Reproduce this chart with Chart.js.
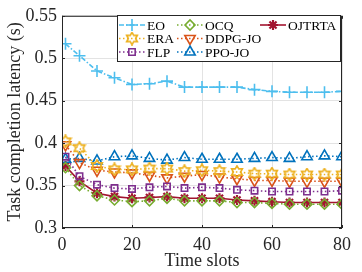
<!DOCTYPE html>
<html><head><meta charset="utf-8">
<script src="https://cdn.jsdelivr.net/npm/chart.js@4/dist/chart.umd.min.js"></script>
<style>html,body{margin:0;padding:0;background:#fff}#w{width:362px;height:272px}</style>
</head><body><div id="w"><canvas id="c" width="362" height="272"></canvas></div>
<script>
const timeSlots = [1,5,10,15,20,25,30,35,40,45,50,55,60,65,70,75,80];
const EO     = [0.517,0.503,0.485,0.477,0.469,0.470,0.473,0.466,0.466,0.466,0.466,0.463,0.461,0.460,0.460,0.460,0.461];
const ERA    = [0.402,0.394,0.373,0.369,0.369,0.370,0.370,0.367,0.368,0.367,0.366,0.364,0.364,0.363,0.363,0.363,0.363];
const FLP    = [0.384,0.361,0.351,0.347,0.346,0.348,0.349,0.347,0.348,0.347,0.345,0.344,0.343,0.343,0.343,0.343,0.344];
const OCQ    = [0.371,0.350,0.338,0.333,0.331,0.332,0.335,0.332,0.332,0.332,0.330,0.330,0.329,0.328,0.328,0.328,0.328];
const DDPGJO = [0.398,0.377,0.368,0.366,0.365,0.362,0.359,0.361,0.363,0.360,0.358,0.356,0.356,0.355,0.355,0.355,0.355];
const PPOJO  = [0.381,0.382,0.379,0.384,0.385,0.382,0.380,0.383,0.381,0.381,0.381,0.382,0.383,0.382,0.384,0.385,0.384];
const OJTRTA = [0.373,0.355,0.341,0.337,0.335,0.336,0.337,0.335,0.335,0.335,0.333,0.332,0.331,0.330,0.330,0.330,0.330];
const seriesNames = ['EO','ERA','FLP','OCQ','DDPG-JO','PPO-JO','OJTRTA'];
const xTicks = [0,20,40,60,80];
const yTicks = [0.3,0.35,0.4,0.45,0.5,0.55];

const FONT = "'Liberation Serif', 'Times New Roman', serif";

function hexagram(color){
  const s=14, c=document.createElement('canvas'); c.width=s; c.height=s;
  const g=c.getContext('2d'); const cx=s/2, cy=s/2, R=6.2, r=3.6;
  g.beginPath();
  for(let i=0;i<12;i++){const a=-Math.PI/2+i*Math.PI/6; const rr=i%2?r:R; g.lineTo(cx+rr*Math.cos(a),cy+rr*Math.sin(a));}
  g.closePath(); g.strokeStyle=color; g.lineWidth=1.6; g.stroke();
  return c;
}
const cols = {EO:'#4DBEEE',ERA:'#EDB120',FLP:'#7E2F8E',OCQ:'#77AC30',DDPG:'#D95319',PPO:'#0072BD',OJ:'#A2142F'};
const hexImg = hexagram(cols.ERA);

function pts(arr){return timeSlots.map((x,i)=>({x:x,y:arr[i]}));}
const dot=[1.5,2.5];
const datasets = [
 {label:seriesNames[0],data:pts(EO),borderColor:cols.EO,backgroundColor:cols.EO,borderDash:[5,2,1.5,2],pointStyle:'cross',pointRadius:6,pointBorderWidth:1.6},
 {label:seriesNames[1],data:pts(ERA),borderColor:cols.ERA,backgroundColor:cols.ERA,borderDash:dot,pointStyle:hexImg,pointRadius:6},
 {label:seriesNames[2],data:pts(FLP),borderColor:cols.FLP,backgroundColor:'rgba(0,0,0,0)',borderDash:dot,pointStyle:'rect',pointRadius:4.5,pointBorderWidth:1.6},
 {label:seriesNames[3],data:pts(OCQ),borderColor:cols.OCQ,backgroundColor:'rgba(0,0,0,0)',borderDash:dot,pointStyle:'rectRot',pointRadius:5,pointBorderWidth:1.6},
 {label:seriesNames[4],data:pts(DDPGJO),borderColor:cols.DDPG,backgroundColor:'rgba(0,0,0,0)',borderDash:dot,pointStyle:'triangle',pointRotation:180,pointRadius:6,pointBorderWidth:1.6},
 {label:seriesNames[5],data:pts(PPOJO),borderColor:cols.PPO,backgroundColor:'rgba(0,0,0,0)',borderDash:dot,pointStyle:'triangle',pointRadius:6,pointBorderWidth:1.6},
 {label:seriesNames[6],data:pts(OJTRTA),borderColor:cols.OJ,backgroundColor:cols.OJ,borderDash:[],pointStyle:'star',pointRadius:5,pointBorderWidth:2.2}
];
datasets.forEach(d=>{d.borderWidth=1.6;d.tension=0;d.fill=false;});

const framePlugin = {
  id:'frame',
  afterDraw(chart){
    const {ctx,chartArea:a,scales} = chart;
    ctx.save();
    ctx.strokeStyle='#262626'; ctx.lineWidth=1;
    ctx.strokeRect(a.left+0.5,a.top+0.5,a.right-a.left-1,a.bottom-a.top-1);
    ctx.beginPath();
    xTicks.forEach(v=>{const px=Math.round(scales.x.getPixelForValue(v))+0.5;
      ctx.moveTo(px,a.bottom);ctx.lineTo(px,a.bottom-3);ctx.moveTo(px,a.top);ctx.lineTo(px,a.top+3);});
    yTicks.forEach(v=>{const py=Math.round(scales.y.getPixelForValue(v))+0.5;
      ctx.moveTo(a.left,py);ctx.lineTo(a.left+3,py);ctx.moveTo(a.right,py);ctx.lineTo(a.right-3,py);});
    ctx.stroke();
    // legend
    const L=117,T=15,W=223,H=46;
    ctx.fillStyle='#fff'; ctx.fillRect(L,T,W,H);
    ctx.strokeStyle='#262626'; ctx.strokeRect(L+0.5,T+0.5,W,H);
    const layout=[[0,0,0],[3,1,0],[6,2,0],[1,0,1],[4,1,1],[2,0,2],[5,1,2]];
    const colX=[L+2,L+60,L+143];
    ctx.font="13.5px "+FONT; ctx.textBaseline='middle'; ctx.textAlign='left';
    layout.forEach(([di,c,r])=>{
      const ds=chart.data.datasets[di];
      const y=T+10+r*13.5, x0=colX[c], x1=x0+26;
      ctx.save(); ctx.strokeStyle=ds.borderColor; ctx.lineWidth=1.6; ctx.setLineDash(ds.borderDash||[]);
      ctx.beginPath(); ctx.moveTo(x0,y); ctx.lineTo(x1,y); ctx.stroke(); ctx.restore();
      ctx.save(); ctx.strokeStyle=ds.borderColor; ctx.fillStyle=ds.backgroundColor; ctx.lineWidth=ds.pointBorderWidth||1.6;
      Chart.helpers.drawPoint(ctx,{pointStyle:ds.pointStyle,rotation:ds.pointRotation||0,radius:ds.pointRadius,borderWidth:ds.pointBorderWidth||1.6},(x0+x1)/2,y);
      ctx.restore();
      ctx.fillStyle='#000'; ctx.fillText(ds.label,x1+2,y+1);
    });
    ctx.restore();
  }
};

new Chart(document.getElementById('c'),{
  type:'line',
  data:{datasets},
  plugins:[framePlugin],
  options:{
    responsive:false,animation:false,
    layout:{padding:{top:8,right:20,left:0,bottom:0}},
    plugins:{legend:{display:false},tooltip:{enabled:false}},
    scales:{
      x:{type:'linear',min:0,max:80,
        afterBuildTicks:s=>{s.ticks=xTicks.map(v=>({value:v}));},
        afterFit:s=>{s.height=44;},
        grid:{color:'#e3e3e3',drawTicks:false},
        border:{display:false},
        ticks:{font:{family:FONT,size:18},color:'#262626',padding:6,maxRotation:0},
        title:{display:true,text:'Time slots',font:{family:FONT,size:18},color:'#262626',padding:{top:2,bottom:0}}},
      y:{type:'linear',min:0.3,max:0.55,
        afterBuildTicks:s=>{s.ticks=yTicks.map(v=>({value:v}));},
        afterFit:s=>{s.width=62;},
        grid:{color:'#e3e3e3',drawTicks:false},
        border:{display:false},
        ticks:{font:{family:FONT,size:18},color:'#262626',padding:5,callback:v=>String(+v.toFixed(2))},
        title:{display:true,text:'Task completion latency (s)',font:{family:FONT,size:18},color:'#262626',padding:{top:4,bottom:2}}}
    }
  }
});
</script></body></html>
